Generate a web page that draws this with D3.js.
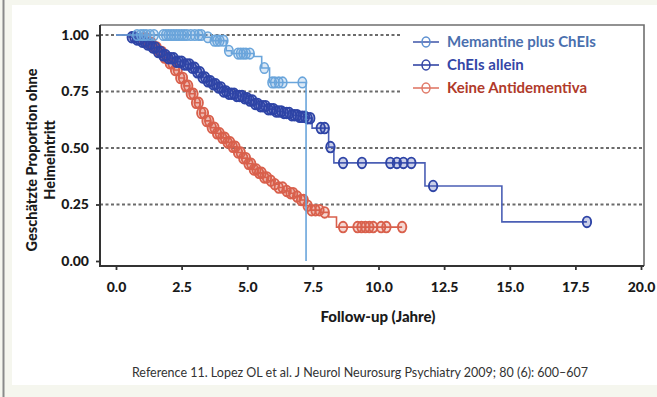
<!DOCTYPE html>
<html>
<head>
<meta charset="utf-8">
<script src="https://cdn.jsdelivr.net/npm/d3@7"></script>
<style>
  body { margin: 0; background: #f5f6ee; }
  svg { display: block; }
  text { font-family: Lato, "Open Sans", sans-serif; }
</style>
</head>
<body>
<div id="chart"></div>
<script>
// tick labels
const xTicks = [0, 2.5, 5, 7.5, 10, 12.5, 15, 17.5, 20];
const yTicks = [0, 0.25, 0.5, 0.75, 1];

const seriesNames = ["Memantine plus ChEIs", "ChEIs allein", "Keine Antidementiva"];

// Kaplan-Meier steps: [time, survival after the event]
const memSteps = [[0, 1], [3.4, 0.99], [3.65, 0.975], [4.2, 0.93], [4.4, 0.918], [5.25, 0.905], [5.55, 0.854], [5.85, 0.79], [7.24, 0]];
const memCensor = [0.8, 0.95, 1.05, 1.15, 1.3, 1.45, 1.8, 1.9, 2.0, 2.1, 2.2, 2.3, 2.4, 2.5, 2.6, 2.7, 2.85, 3.0, 3.15, 3.25,
  3.5, 3.75, 3.85, 3.95, 4.1, 4.3, 4.65, 4.75, 4.85, 4.95, 5.1, 5.65, 5.95, 6.05, 6.2, 6.35, 7.1];
const memEnd = 7.24;

const chSteps = [[0, 1], [0.5, 0.99], [0.8, 0.98], [1.0, 0.97], [1.2, 0.958], [1.4, 0.945], [1.6, 0.925], [1.8, 0.91], [2.0, 0.897],
  [2.3, 0.882], [2.6, 0.87], [2.9, 0.855], [3.1, 0.835], [3.3, 0.812], [3.5, 0.795], [3.7, 0.782], [3.9, 0.768], [4.1, 0.75],
  [4.3, 0.74], [4.6, 0.73], [4.9, 0.72], [5.1, 0.71], [5.3, 0.695], [5.5, 0.685], [5.8, 0.672], [6.1, 0.662], [6.4, 0.655],
  [6.7, 0.645], [7.0, 0.638], [7.3, 0.632], [7.47, 0.588], [8.1, 0.504], [8.3, 0.434], [11.77, 0.332], [14.7, 0.173]];
const chCensor = [0.6, 0.7, 0.8, 0.9, 1.0, 1.1, 1.2, 1.3, 1.4, 1.5, 1.6, 1.7, 1.8, 1.9, 2.0, 2.1, 2.2, 2.3, 2.4, 2.5, 2.6, 2.7,
  2.8, 2.9, 3.0, 3.1, 3.2, 3.3, 3.4, 3.5, 3.6, 3.7, 3.8, 3.9, 4.0, 4.1, 4.2, 4.3, 4.4, 4.5, 4.6, 4.7, 4.8, 4.9, 5.0, 5.1, 5.2,
  5.3, 5.4, 5.5, 5.6, 5.7, 5.8, 5.9, 6.0, 6.1, 6.2, 6.3, 6.4, 6.5, 6.6, 6.7, 6.8, 6.9, 7.0, 7.1, 7.2, 7.3, 7.4,
  7.8, 7.95, 8.17, 8.65, 9.37, 10.45, 10.7, 10.95, 11.25, 12.08, 17.94];
const chEnd = 17.94;

const redSteps = [[0, 1], [1.0, 0.985], [1.2, 0.965], [1.4, 0.945], [1.6, 0.925], [1.8, 0.9], [2.0, 0.875], [2.2, 0.845],
  [2.4, 0.81], [2.6, 0.775], [2.8, 0.74], [3.0, 0.7], [3.2, 0.655], [3.4, 0.62], [3.6, 0.59], [3.8, 0.565], [4.0, 0.545],
  [4.2, 0.525], [4.4, 0.505], [4.6, 0.48], [4.8, 0.455], [5.0, 0.43], [5.2, 0.405], [5.4, 0.39], [5.6, 0.37], [5.8, 0.355],
  [6.0, 0.34], [6.2, 0.325], [6.4, 0.31], [6.6, 0.3], [6.8, 0.285], [7.0, 0.27], [7.2, 0.245], [7.4, 0.225], [7.8, 0.215],
  [8.1, 0.195], [8.4, 0.15]];
const redCensor = [1.05, 1.15, 1.25, 1.35, 1.45, 1.55, 1.65, 1.75, 1.85, 1.95, 2.05, 2.15, 2.25, 2.35, 2.45, 2.55, 2.65, 2.75,
  2.85, 2.95, 3.05, 3.15, 3.25, 3.35, 3.45, 3.55, 3.65, 3.75, 3.85, 3.95, 4.05, 4.15, 4.25, 4.35, 4.45, 4.55, 4.65, 4.75, 4.85,
  4.95, 5.05, 5.15, 5.25, 5.35, 5.45, 5.55, 5.65, 5.75, 5.9, 6.05, 6.2, 6.35, 6.5, 6.65, 6.75, 6.9, 7.05, 7.15, 7.3, 7.45, 7.6,
  7.75, 7.95, 8.65, 9.2, 9.35, 9.5, 9.65, 9.8, 10.1, 10.3, 10.9];
const redEnd = 10.9;

const W = 657, H = 397;
const svg = d3.select("#chart").append("svg").attr("width", W).attr("height", H);

// panel
svg.append("rect").attr("x", 0).attr("y", 0).attr("width", W).attr("height", H).attr("fill", "#f5f6ee");
svg.append("rect").attr("x", 12).attr("y", 5).attr("width", W - 12).attr("height", 380).attr("fill", "#fff");
svg.append("line").attr("x1", 3.5).attr("x2", 3.5).attr("y1", 0).attr("y2", H).attr("stroke", "#8a8a8a").attr("stroke-width", 2);

const pLeft = 100, pRight = 644, pTop = 25, pBottom = 266;
const x = d3.scaleLinear().domain([0, 20]).range([116, 641]);
const y = d3.scaleLinear().domain([0, 1]).range([261, 35]);

// grid
svg.append("g").selectAll("line").data(yTicks.filter(d => d > 0)).enter().append("line")
  .attr("x1", pLeft).attr("x2", pRight)
  .attr("y1", d => y(d)).attr("y2", d => y(d))
  .attr("stroke", "#6b6b6b").attr("stroke-width", 1.8).attr("stroke-dasharray", "3,2.5");

// frame
svg.append("path").attr("d", `M${pLeft},${pTop}H${pRight}V${pBottom}`).attr("fill", "none")
  .attr("stroke", "#6f6f6f").attr("stroke-width", 1.6);

// legend box hides grid
svg.append("rect").attr("x", 400).attr("y", 27).attr("width", 242).attr("height", 74).attr("fill", "#fff");

function survAt(steps, t) {
  let s = 1;
  for (const st of steps) { if (st[0] <= t) s = st[1]; }
  return s;
}

const line = d3.line().x(d => x(d[0])).y(d => y(d[1])).curve(d3.curveStepAfter);

function drawCurve(steps, censor, end, color, lineColor, sw, tint) {
  const pts = steps.slice();
  if (pts[pts.length - 1][0] < end) pts.push([end, pts[pts.length - 1][1]]);
  const g = svg.append("g");
  g.append("path").attr("d", line(pts)).attr("fill", "none").attr("stroke", lineColor).attr("stroke-width", 1.6);
  g.selectAll("ellipse").data(censor).enter().append("ellipse")
    .attr("cx", d => x(d)).attr("cy", d => y(survAt(steps, d)))
    .attr("rx", 4.2).attr("ry", 5.3)
    .attr("fill", tint).attr("stroke", color).attr("stroke-width", sw);
}

drawCurve(redSteps, redCensor, redEnd, "#d9604c", "#d9604c", 1.9, "rgba(217,96,76,0.25)");
drawCurve(chSteps, chCensor, chEnd, "#2e44a6", "#4b5fb5", 1.9, "rgba(46,68,166,0.25)");
drawCurve(memSteps, memCensor, memEnd, "#6aa5db", "#6aa5db", 1.6, "rgba(106,165,219,0.25)");

// axes
const yAxis = d3.axisLeft(y).tickValues(yTicks).tickFormat(d3.format(".2f")).tickSize(4).tickPadding(7);
const gy = svg.append("g").attr("transform", `translate(${pLeft},0)`).call(yAxis);
const xAxis = d3.axisBottom(x).tickValues(xTicks).tickFormat(d3.format(".1f")).tickSize(4).tickPadding(12);
const gx = svg.append("g").attr("transform", `translate(0,${pBottom})`).call(xAxis);
[gx, gy].forEach(g => {
  g.select(".domain").remove();
  g.selectAll(".tick line").attr("stroke", "#333").attr("stroke-width", 1.8);
  g.selectAll(".tick text").attr("fill", "#1a1a1a").style("font-size", "14px").style("font-weight", "900")
    .style("font-family", "Lato, sans-serif");
});
svg.append("path").attr("d", `M${pLeft},${pTop}V${pBottom}H${pRight}`).attr("fill", "none")
  .attr("stroke", "#333").attr("stroke-width", 2);

// axis titles
svg.append("text").attr("x", 378).attr("y", 322).attr("text-anchor", "middle")
  .style("font-size", "15px").style("font-weight", "900").attr("fill", "#1a1a1a").text("Follow-up (Jahre)");
const yl = svg.append("g").attr("transform", "translate(37,160) rotate(-90)");
yl.append("text").attr("x", 0).attr("y", 0).attr("text-anchor", "middle")
  .style("font-size", "14.5px").style("font-weight", "900").attr("fill", "#1a1a1a").text("Geschätzte Proportion ohne");
yl.append("text").attr("x", 0).attr("y", 18).attr("text-anchor", "middle")
  .style("font-size", "14.5px").style("font-weight", "900").attr("fill", "#1a1a1a").text("Heimeintritt");

// legend
const legColors = [["#5b8fd0", "#4a5fae", "#4a6fae"], ["#3446a6", "#3446a6", "#3446a6"], ["#e07a68", "#e07a68", "#b03a2a"]];
const leg = svg.append("g");
seriesNames.forEach((name, i) => {
  const ly = 42 + i * 23;
  leg.append("line").attr("x1", 413).attr("x2", 439).attr("y1", ly).attr("y2", ly)
    .attr("stroke", legColors[i][1]).attr("stroke-width", 1.6);
  leg.append("ellipse").attr("cx", 426).attr("cy", ly).attr("rx", 4).attr("ry", 5)
    .attr("fill", "none").attr("stroke", legColors[i][0]).attr("stroke-width", 1.5);
  leg.append("text").attr("x", 447).attr("y", ly + 5)
    .style("font-size", "15px").style("font-weight", "bold").attr("fill", legColors[i][2]).text(name);
});

// footer
svg.append("text").attr("x", 360).attr("y", 377).attr("text-anchor", "middle")
  .style("font-size", "12.5px").attr("fill", "#333")
  .text("Reference 11. Lopez OL et al. J Neurol Neurosurg Psychiatry 2009; 80 (6): 600–607");
</script>
</body>
</html>
